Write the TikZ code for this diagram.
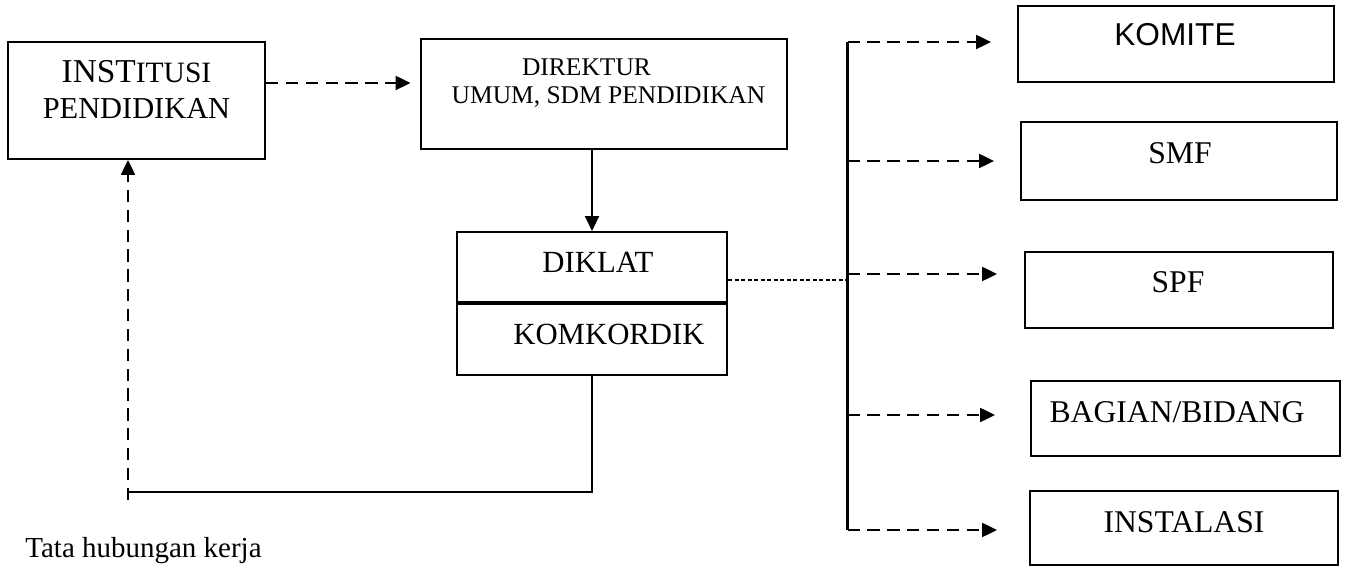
\documentclass[tikz,border=0pt]{standalone}
\usepackage{fontspec}
\setmainfont{Liberation Serif}
\newfontfamily\arialfont{Liberation Sans}
\usetikzlibrary{arrows.meta,positioning}

\tikzset{
  box/.style={draw, line width=1.2pt, inner sep=0pt},
  txt/.style={font=\fontsize{17.5}{21}\selectfont, inner sep=0pt},
  tip/.style={-{Triangle[length=8.5pt,width=8pt]}},
  dasharrow/.style={tip, line width=1.3pt, dash pattern=on 7pt off 4.3pt},
  thindash/.style={line width=0.7pt, dash pattern=on 2.5pt off 1.2pt},
}

\begin{document}
\begin{tikzpicture}
\useasboundingbox (0,0) rectangle (27.04,11.34);

% kotak kiri dan tengah
\node[box, minimum width=5.14cm, minimum height=2.34cm] (inst) at (2.73,9.33) {};
\node[align=center, inner sep=0pt, font=\fontsize{17.3}{20.8}\selectfont] (inst-t) at ([yshift=0.22cm]inst.center)
  {{\fontsize{19}{20.8}\selectfont INST}{\fontsize{16.8}{20.8}\selectfont ITUSI}\\PENDIDIKAN};

\node[box, minimum width=7.32cm, minimum height=2.2cm] (dir) at (12.08,9.46) {};
\node[align=center, inner sep=0pt, font=\fontsize{14.5}{16.1}\selectfont] (dir-t) at ([xshift=0.09cm,yshift=0.22cm]dir.center)
  {DIREKTUR\kern0.88cm\\UMUM, SDM PENDIDIKAN};

\node[box, minimum width=5.4cm, minimum height=1.4cm] (dik) at (11.84,6.0) {};
\node[box, minimum width=5.4cm, minimum height=1.42cm, below=0pt of dik] (kom) {};
\node[txt] (dik-t) at ([xshift=0.12cm,yshift=0.1cm]dik.center) {DIKLAT};
\node[txt] (kom-t) at ([xshift=0.34cm,yshift=0.11cm]kom.center) {KOMKORDIK};

% kotak kanan
\node[box, minimum width=6.32cm, minimum height=1.52cm] (komite) at (23.52,10.46) {};
\node[txt, font=\arialfont\fontsize{18}{21}\selectfont] (komite-t) at ([xshift=-0.02cm,yshift=0.18cm]komite.center) {KOMITE};
\node[box, minimum width=6.32cm, minimum height=1.56cm] (smf) at (23.58,8.12) {};
\node[txt, font=\fontsize{18}{21}\selectfont] (smf-t) at ([xshift=0.02cm,yshift=0.16cm]smf.center) {SMF};
\node[box, minimum width=6.16cm, minimum height=1.52cm] (spf) at (23.58,5.54) {};
\node[txt, font=\fontsize{18}{21}\selectfont] (spf-t) at ([xshift=-0.02cm,yshift=0.16cm]spf.center) {SPF};
\node[box, minimum width=6.18cm, minimum height=1.5cm] (bag) at (23.71,2.97) {};
\node[txt, font=\fontsize{18}{21}\selectfont] (bag-t) at ([xshift=-0.17cm,yshift=0.13cm]bag.center) {BAGIAN/BIDANG};
\node[box, minimum width=6.16cm, minimum height=1.48cm] (insta) at (23.68,0.78) {};
\node[txt, font=\fontsize{18}{21}\selectfont] (insta-t) at ([yshift=0.12cm]insta.center) {INSTALASI};

\node[anchor=base west, inner sep=0pt, font=\fontsize{16.5}{19}\selectfont] (caption) at (0.5,0.2) {Tata hubungan kerja};

% panah
\coordinate (a1) at ([yshift=0.35cm]inst.east);
\draw[dasharrow, shorten >=0.19cm] (a1) -- (a1 -| dir.west);
\draw[line width=1.2pt, tip] (dir.south -| dik.north) -- (dik.north);

\coordinate (turn) at (2.56,1.5);
\draw[line width=1.2pt] (kom.south) |- (turn);
\draw[dasharrow] ([yshift=-0.16cm]turn) -- (turn |- inst.south);

\coordinate (bustop) at (16.95,10.5);
\coordinate (busbot) at (16.95,0.74);
\draw[line width=1.2pt] (bustop) -- (busbot);
\draw[thindash] ([yshift=-0.26cm]dik.east) -- ([yshift=-0.26cm]dik.east -| bustop);

\draw[dasharrow, shorten >=0.52cm] (bustop) -- (bustop -| komite.west);
\draw[dasharrow, shorten >=0.52cm] (bustop |- smf.west) -- (smf.west);
\draw[dasharrow, shorten >=0.54cm] ([yshift=0.32cm]spf.west -| bustop) -- ([yshift=0.32cm]spf.west);
\draw[dasharrow, shorten >=0.7cm] ([yshift=0.07cm]bag.west -| bustop) -- ([yshift=0.07cm]bag.west);
\draw[dasharrow, shorten >=0.64cm] (busbot) -- (busbot -| insta.west);
\end{tikzpicture}
\end{document}
